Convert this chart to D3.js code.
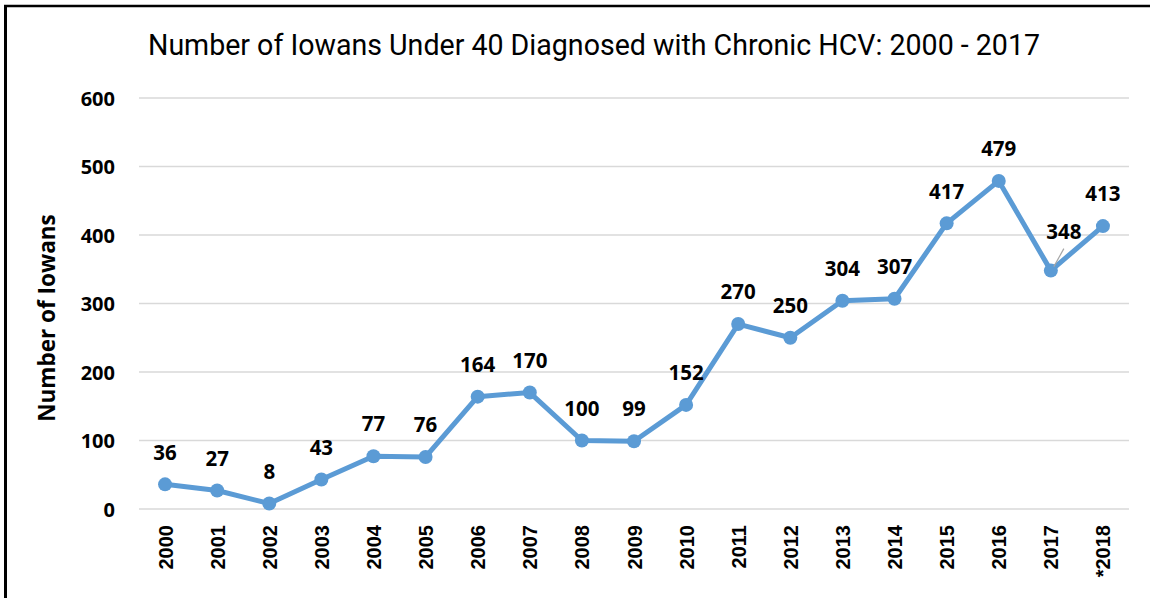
<!DOCTYPE html>
<html><head><meta charset="utf-8">
<script src="https://cdn.jsdelivr.net/npm/d3@7"></script>
<style>body{margin:0;background:#fff}svg{display:block}</style>
</head><body>
<script>
const years = ["2000","2001","2002","2003","2004","2005","2006","2007","2008","2009","2010","2011","2012","2013","2014","2015","2016","2017","*2018"];
const counts = [36,27,8,43,77,76,164,170,100,99,152,270,250,304,307,417,479,348,413];
const yTicks = [0,100,200,300,400,500,600];
const titleText = "Number of Iowans Under 40 Diagnosed with Chronic HCV: 2000 - 2017";
const yTitle = "Number of Iowans";

const W = 1150, H = 598;
const svg = d3.select("body").append("svg").attr("width", W).attr("height", H);
svg.append("rect").attr("width", W).attr("height", H).attr("fill", "#fff");
// frame
svg.append("line").attr("x1",5.5).attr("x2",5.5).attr("y1",5).attr("y2",H).attr("stroke","#000").attr("stroke-width",3);
svg.append("line").attr("x1",4).attr("x2",W).attr("y1",6).attr("y2",6).attr("stroke","#000").attr("stroke-width",2.5);

const x = d3.scalePoint().domain(years).range([139,1129]).padding(0.5);
const y = d3.scaleLinear().domain([0,600]).range([509,98]);

svg.append("text").attr("x",594).attr("y",55).attr("text-anchor","middle")
  .attr("font-family","Roboto, sans-serif").attr("font-size",29).attr("font-weight",400).attr("fill","#000")
  .attr("textLength",892).attr("lengthAdjust","spacingAndGlyphs").text(titleText);

// grid
svg.append("g").selectAll("line").data(yTicks).join("line")
  .attr("x1",139).attr("x2",1129).attr("y1",d=>y(d)).attr("y2",d=>y(d))
  .attr("stroke","#d9d9d9").attr("stroke-width",1.5);

const yAxis = d3.axisLeft(y).tickValues(yTicks).tickSize(0).tickPadding(0);
const ga = svg.append("g").attr("transform","translate(115,0)").call(yAxis);
ga.select(".domain").remove();
ga.selectAll("text").attr("font-family","'Open Sans', sans-serif").attr("font-weight","bold")
  .attr("font-size",20).attr("fill","#000").attr("dy","0.35em");

const xAxis = d3.axisBottom(x).tickSize(0).tickPadding(0);
const gx = svg.append("g").attr("transform","translate(0,522)").call(xAxis);
gx.select(".domain").remove();
gx.selectAll(".tick text").attr("font-family","'Liberation Sans', Arial, sans-serif").attr("font-weight","bold")
  .attr("font-size",20).attr("fill","#000")
  .attr("transform","rotate(-90)").attr("text-anchor","end").attr("x",-3).attr("y",0).attr("dy","0.35em");

svg.append("text").attr("transform","translate(55,318) rotate(-90)").attr("text-anchor","middle")
  .attr("font-family","'Open Sans', sans-serif").attr("font-weight","bold").attr("font-size",22.5)
  .attr("fill","#000").text(yTitle);

const pts = years.map((yr,i)=>({yr, v:counts[i]}));
svg.append("path").datum(pts)
  .attr("d", d3.line().x(d=>x(d.yr)).y(d=>y(d.v)))
  .attr("fill","none").attr("stroke","#5B9BD5").attr("stroke-width",5).attr("stroke-linejoin","round");
svg.append("g").selectAll("circle").data(pts).join("circle")
  .attr("cx",d=>x(d.yr)).attr("cy",d=>y(d.v)).attr("r",7).attr("fill","#5B9BD5");

// leader line for 2017 label
const p17 = pts[17];
svg.append("line").attr("x1",x(p17.yr)+3).attr("y1",y(p17.v)-4).attr("x2",x(p17.yr)+13).attr("y2",y(p17.v)-22)
  .attr("stroke","#a6a6a6").attr("stroke-width",1.2);

svg.append("g").selectAll("text").data(pts).join("text")
  .attr("x",(d,i)=> i===17 ? x(d.yr)+13 : x(d.yr))
  .attr("y",(d,i)=> i===17 ? y(d.v)-39 : y(d.v)-32)
  .attr("dy","0.35em").attr("text-anchor","middle")
  .attr("font-family","'Open Sans', sans-serif").attr("font-weight","bold").attr("font-size",20.5)
  .attr("fill","#000").text(d=>d.v);
</script>
</body></html>
